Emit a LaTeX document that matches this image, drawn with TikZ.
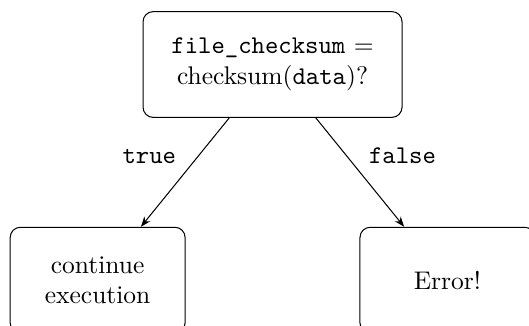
\documentclass[tikz,border=0pt]{standalone}
\usetikzlibrary{positioning,arrows.meta}

\begin{document}
\begin{tikzpicture}[
  node distance=42.7pt,
  block/.style={draw, rounded corners=4pt, align=center, minimum height=41.5pt},
  arr/.style={-{Stealth[length=4pt]}},
  note/.style={font=\ttfamily, midway}
]
\useasboundingbox (-106.9pt,25.3pt) rectangle (100.6pt,-102.5pt);

% nodes
\node[block, minimum width=101.6pt] (check) {\texttt{file\_checksum} $=$\\ checksum(\texttt{data})?};
\node[block, minimum width=68.6pt, below=of check, xshift=-68.6pt] (cont) {continue\\ execution};
\node[block, minimum width=68.6pt, below=of check, xshift=68.6pt] (err) {Error!};

% arrows with labels
\draw[arr] (check) -- node[note, above left] {true} (cont);
\draw[arr] (check) -- node[note, above right] {false} (err);

\end{tikzpicture}
\end{document}
